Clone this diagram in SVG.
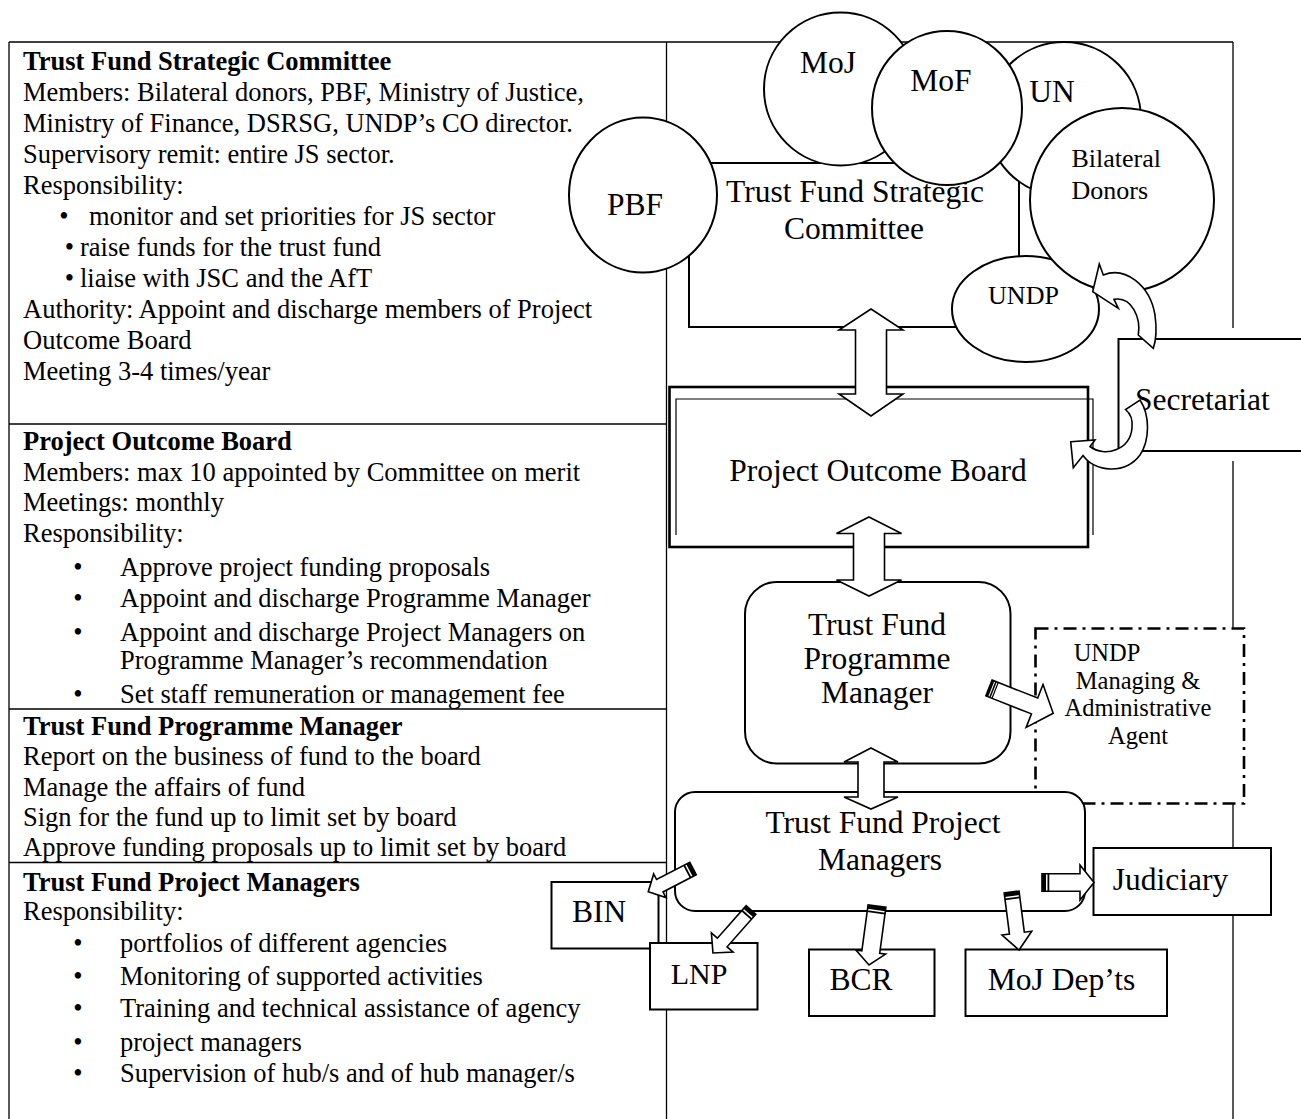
<svg xmlns="http://www.w3.org/2000/svg" width="1301" height="1119" viewBox="0 0 1301 1119">
<style>
.t{font-family:"Liberation Serif","Times New Roman",serif;fill:#000}
.l{font-size:26.5px}
.b{font-weight:bold}
.d{font-size:31.5px}
.s{font-size:26px}
.m{font-size:24.5px;text-anchor:middle}
.c{text-anchor:middle}
.tbl{stroke:#000;stroke-width:1.3;fill:none}
.sh{fill:#fff;stroke:#000;stroke-width:2}
.thick{fill:#fff;stroke:#000;stroke-width:2.6}
.thin{fill:none;stroke:#000;stroke-width:1.2}
.arr{fill:#fff;stroke:#000;stroke-width:1.6;stroke-linejoin:miter}
.dash{fill:#fff;stroke:#000;stroke-width:2.6;stroke-dasharray:13 6 3 6}
</style>
<rect width="1301" height="1119" fill="#fff"/>

<g id="table" class="tbl">
<path d="M9,42 H1233 M9,42 V1119 M666.5,42 V1119 M1233,42 V328 M1233,461 V1119 M9,424 H666.5 M9,709 H666.5 M9,862.5 H666.5"/>
</g>

<g id="text-committee" class="t l">
<text x="23" y="70" class="b">Trust Fund Strategic Committee</text>
<text x="23" y="101">Members: Bilateral donors, PBF, Ministry of Justice,</text>
<text x="23" y="132">Ministry of Finance, DSRSG, UNDP’s CO director.</text>
<text x="23" y="163">Supervisory remit: entire JS sector.</text>
<text x="23" y="194">Responsibility:</text>
<text x="64" y="225" class="c">•</text><text x="89" y="225">monitor and set priorities for JS sector</text>
<text x="69.5" y="256" class="c">•</text><text x="80" y="256">raise funds for the trust fund</text>
<text x="69.5" y="287" class="c">•</text><text x="80" y="287">liaise with JSC and the AfT</text>
<text x="23" y="318">Authority: Appoint and discharge members of Project</text>
<text x="23" y="349">Outcome Board</text>
<text x="23" y="380">Meeting 3-4 times/year</text>
</g>

<g id="text-board" class="t l">
<text x="23" y="450" class="b">Project Outcome Board</text>
<text x="23" y="481">Members: max 10 appointed by Committee on merit</text>
<text x="23" y="511">Meetings: monthly</text>
<text x="23" y="542">Responsibility:</text>
<text x="78" y="576" class="c">•</text><text x="120" y="576">Approve project funding proposals</text>
<text x="78" y="607" class="c">•</text><text x="120" y="607">Appoint and discharge Programme Manager</text>
<text x="78" y="641" class="c">•</text><text x="120" y="641">Appoint and discharge Project Managers on</text>
<text x="120" y="669">Programme Manager’s recommendation</text>
<text x="78" y="703" class="c">•</text><text x="120" y="703">Set staff remuneration or management fee</text>
</g>

<g id="text-programme" class="t l">
<text x="23" y="735" class="b">Trust Fund Programme Manager</text>
<text x="23" y="765">Report on the business of fund to the board</text>
<text x="23" y="796">Manage the affairs of fund</text>
<text x="23" y="826">Sign for the fund up to limit set by board</text>
<text x="23" y="856">Approve funding proposals up to limit set by board</text>
</g>

<g id="text-project" class="t l">
<text x="23" y="891" class="b">Trust Fund Project Managers</text>
<text x="23" y="920">Responsibility:</text>
<text x="78" y="952" class="c">•</text><text x="120" y="952">portfolios of different agencies</text>
<text x="78" y="985" class="c">•</text><text x="120" y="985">Monitoring of supported activities</text>
<text x="78" y="1017" class="c">•</text><text x="120" y="1017">Training and technical assistance of agency</text>
<text x="78" y="1051" class="c">•</text><text x="120" y="1051">project managers</text>
<text x="78" y="1082" class="c">•</text><text x="120" y="1082">Supervision of hub/s and of hub manager/s</text>
</g>

<g id="node-tfsc">
<rect x="689" y="163" width="330" height="164" class="sh"/>
<text x="855" y="202" class="t d c">Trust Fund Strategic</text>
<text x="854" y="239" class="t d c">Committee</text>
</g>

<g id="node-pbf">
<ellipse cx="643" cy="195" rx="74" ry="77.5" class="sh"/>
<text x="635" y="215" class="t d c">PBF</text>
</g>
<g id="node-moj">
<circle cx="840.5" cy="89" r="76.5" class="sh"/>
<text x="828" y="72.5" class="t d c">MoJ</text>
</g>
<g id="node-un">
<circle cx="1064" cy="119" r="77" class="sh"/>
<text x="1052" y="101.5" class="t d c">UN</text>
</g>
<g id="node-mof">
<ellipse cx="947" cy="108" rx="75" ry="77" class="sh"/>
<text x="941" y="91" class="t d c">MoF</text>
</g>
<g id="node-undp">
<ellipse cx="1025.5" cy="309" rx="73.5" ry="53" class="sh"/>
<text x="1023.5" y="304" class="t s c">UNDP</text>
</g>
<g id="node-donors">
<circle cx="1122" cy="200" r="92" class="sh"/>
<text x="1071.5" y="166.5" class="t s">Bilateral</text>
<text x="1071.5" y="198.5" class="t s">Donors</text>
</g>

<g id="node-secretariat">
<path d="M1301,339 H1118.5 V451 H1301" class="sh"/>
<text x="1135" y="410" class="t d">Secretariat</text>
</g>

<g id="node-pob">
<rect x="669.5" y="387" width="418.5" height="160" class="thick"/>
<path d="M676,535 V399 H1093 V535" class="thin"/>
<text x="878" y="481" class="t d c">Project Outcome Board</text>
</g>

<g id="node-undp-agent">
<rect x="1035.5" y="628.5" width="208.5" height="175" class="dash"/>
<text x="1107" y="661" class="t m">UNDP</text>
<text x="1138" y="688.5" class="t m">Managing &amp;</text>
<text x="1138" y="716" class="t m">Administrative</text>
<text x="1138" y="743.5" class="t m">Agent</text>
</g>

<g id="node-tfpm">
<rect x="745" y="582" width="265.5" height="181.5" rx="32" class="sh"/>
<text x="877" y="635" class="t d c">Trust Fund</text>
<text x="877" y="669" class="t d c">Programme</text>
<text x="877" y="703" class="t d c">Manager</text>
</g>

<g id="node-tfpmgrs">
<rect x="675" y="792" width="410" height="119" rx="20" class="sh"/>
<text x="883" y="833" class="t d c">Trust Fund Project</text>
<text x="880" y="870" class="t d c">Managers</text>
</g>

<g id="node-judiciary">
<rect x="1093.5" y="848" width="177.5" height="67" class="sh"/>
<text x="1170.5" y="890" class="t d c">Judiciary</text>
</g>
<g id="node-bin">
<rect x="551.5" y="882" width="107" height="66.5" class="sh"/>
<text x="599" y="922" class="t d c">BIN</text>
</g>
<g id="node-lnp">
<rect x="650" y="943" width="107.5" height="66.5" class="sh"/>
<text x="699" y="983.5" class="t c" style="font-size:30px">LNP</text>
</g>
<g id="node-bcr">
<rect x="809" y="949.5" width="125.5" height="66.5" class="sh"/>
<text x="861" y="989.5" class="t d c">BCR</text>
</g>
<g id="node-mojdepts">
<rect x="965.5" y="949.5" width="201.5" height="66.5" class="sh"/>
<text x="1061.5" y="989.5" class="t d c">MoJ Dep’ts</text>
</g>

<g id="connectors">
<path class="arr" d="M871,309 L903,330 H886.5 V394 H903 L871,416 L839,394 H855.5 V330 H839 Z"/>
<path class="arr" d="M869,517 L901.5,533.5 H884.5 V580 H901.5 L869,596 L836.5,580 H853.5 V533.5 H836.5 Z"/>
<path class="arr" d="M871,748 L898,762 H884 V797 H898 L871,809 L844,797 H858 V762 H844 Z"/>

<path class="arr" d="M1099.3,264 L1103.3,275 C1125,266 1150,285 1155,315 C1157,330 1155.5,342 1153.3,348.3 L1138.3,335 C1141,318 1132,296 1114,299.3 L1118.3,308.3 L1092.7,291.7 Z"/>
<path class="arr" d="M1070.7,441.7 L1095,440 L1090,446.5 C1105,458 1130,450 1132,428 C1133,420 1131,414 1125.5,409.5 L1140,400 C1150,415 1150,440 1140,455 C1125,475 1095,472 1083,455.5 L1073.3,467.7 Z"/>

<g transform="translate(989,688) rotate(21.5)">
<path class="arr" d="M0,-8.5 H49 V-23 L69,0 L49,23 V8.5 H0 Z"/>
<rect x="0" y="-8.5" width="2.5" height="17"/><rect x="3.5" y="-8.5" width="1.5" height="17"/><rect x="6" y="-8.5" width="1.2" height="17"/>
</g>
<g transform="translate(1042,882.5)">
<path class="arr" d="M0,-8.7 H38 V-17.5 L52,0 L38,17.5 V8.7 H0 Z"/>
<rect x="0" y="-8.7" width="4" height="17.4"/><rect x="5.5" y="-8.7" width="1.8" height="17.4"/>
</g>
<g transform="translate(1011.6,892) rotate(82.7)">
<path class="arr" d="M0,-7.5 H41.5 V-15 L58.5,0 L41.5,15 V7.5 H0 Z"/>
<rect x="0" y="-7.5" width="4" height="15"/><rect x="5.5" y="-7.5" width="1.8" height="15"/>
</g>
<g transform="translate(877,906) rotate(97.7)">
<path class="arr" d="M0,-9 H46.5 V-15 L59.5,0 L46.5,15 V9 H0 Z"/>
<rect x="0" y="-9" width="4" height="18"/><rect x="5.5" y="-9" width="1.8" height="18"/>
</g>
<g transform="translate(751,910) rotate(131.5)">
<path class="arr" d="M0,-6.5 H43.4 V-14.5 L57.4,0 L43.4,14.5 V6.5 H0 Z"/>
<rect x="0" y="-6.5" width="4" height="13"/><rect x="5.5" y="-6.5" width="1.8" height="13"/>
</g>
<g transform="translate(693,868.5) rotate(152.6)">
<path class="arr" d="M0,-7 H37.4 V-13.3 L50.4,0 L37.4,13.3 V7 H0 Z"/>
<rect x="0" y="-7" width="4" height="14"/><rect x="5.5" y="-7" width="1.8" height="14"/>
</g>
</g>
</svg>
